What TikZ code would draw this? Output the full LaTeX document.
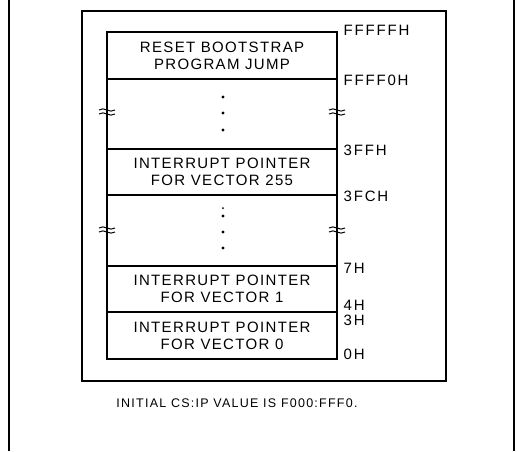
\documentclass[tikz,border=0pt]{standalone}
\usepackage{fontspec}
\newfontfamily\memfont[LetterSpace=9]{Liberation Sans}
\newfontfamily\adrfont[LetterSpace=12]{Liberation Sans}
\newfontfamily\capfont[LetterSpace=10]{Liberation Sans}
\usetikzlibrary{positioning}

\begin{document}
\begin{tikzpicture}[x=1pt,y=-1pt,
  line width=1.4pt,
  cell/.style={font=\memfont\fontsize{15}{17}\selectfont,align=center,inner sep=0pt},
  adr/.style={font=\adrfont\fontsize{15}{17}\selectfont,anchor=west,inner sep=0pt},
  brk/.style={line width=1pt},
  dotmark/.style={fill,circle,inner sep=0pt,minimum size=3.4pt}]
\useasboundingbox (0,0) rectangle (519,451);
% page rules and frame
\draw (9,0) -- (9,451);
\draw (514,0) -- (514,451);
\draw (82,11) rectangle (446,381);
% memory map
\draw (107,32) rectangle (337,359);
\foreach \y in {79,149,195,266,312} \draw (107,\y) -- (337,\y);
\node[cell] (reset) at (222,55.5) {RESET BOOTSTRAP\\PROGRAM JUMP};
\node[cell] (vec255) at (222,172) {INTERRUPT POINTER\\FOR VECTOR 255};
\node[cell] (vec1) at (222,289) {INTERRUPT POINTER\\FOR VECTOR 1};
\node[cell] (vec0) at (222,335.5) {INTERRUPT POINTER\\FOR VECTOR 0};
% gaps
\foreach \y in {97,113,130,216,232,248} \node[dotmark] at (223,\y) {};
\node[dotmark,minimum size=2pt] at (223,208) {};
\foreach \x in {107,337} \foreach \y in {112,230} {
  \draw[brk] (\x-8,\y-2) .. controls (\x-3,\y-6) and (\x+3,\y+2) .. (\x+8,\y-2);
  \draw[brk] (\x-8,\y+2) .. controls (\x-3,\y-2) and (\x+3,\y+6) .. (\x+8,\y+2);
}
% addresses
\foreach \y/\t in {30/FFFFFH,80/FFFF0H,150/3FFH,196/3FCH,268/7H}
  \node[adr] at (343,\y) {\t};
\node[adr] (a4) at (343,305) {4H};
\node[adr] (a3) at (343,320) {3H};
\node[adr] (a0) at (343,354) {0H};
\node[font=\capfont\fontsize{12.5}{14}\selectfont,inner sep=0pt] (initcs) at (237,403) {INITIAL CS:IP VALUE IS F000:FFF0.};
\end{tikzpicture}
\end{document}
